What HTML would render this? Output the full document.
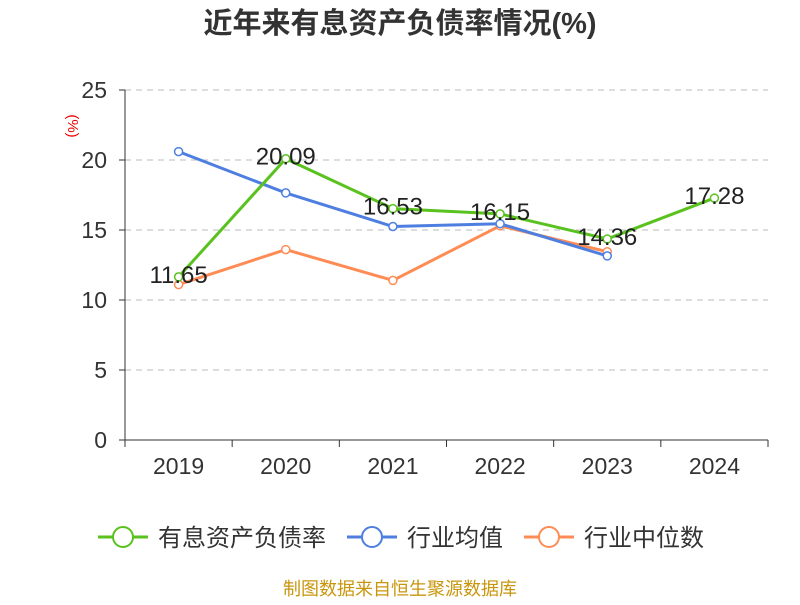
<!DOCTYPE html>
<html><head><meta charset="utf-8"><style>
body{margin:0;background:#fff;font-family:"Liberation Sans","Noto Sans CJK SC",sans-serif}
</style></head><body>
<svg id="c" width="800" height="600" xmlns="http://www.w3.org/2000/svg"></svg>
<script>
const categories=["2019","2020","2021","2022","2023","2024"];
const debtRatio=[11.65,20.09,16.53,16.15,14.36,17.28];
const industryAvg=[20.6,17.65,15.25,15.45,13.15,null];
const industryMedian=[11.1,13.6,11.4,15.3,13.45,null];
const yTicks=[0,5,10,15,20,25];
const svg=document.getElementById('c');
const NS='http://www.w3.org/2000/svg';
function el(t,a,p){const e=document.createElementNS(NS,t);for(const k in a)e.setAttribute(k,a[k]);(p||svg).appendChild(e);return e;}
const x0=125,x1=768,yB=440,yT=90;
const bw=(x1-x0)/categories.length;
const xS=i=>x0+bw*(i+0.5);
const yS=v=>yB-(v/25)*(yB-yT);
let t=el('text',{x:400,y:33,'text-anchor':'middle','font-size':29,'font-weight':'bold',fill:'#333'});
t.textContent='近年来有息资产负债率情况(%)';

t=el('text',{x:68,y:126,'text-anchor':'middle','font-size':15,fill:'#e00',transform:'rotate(90 68 126)'});
t.textContent='(%)';

yTicks.forEach(v=>{
  const y=yS(v);
  if(v>0){const g=el('line',{x1:x0,x2:x1,y1:y,y2:y,stroke:'#bbb','stroke-dasharray':'6,5'});
  }
  el('line',{x1:x0-6,x2:x0,y1:y,y2:y,stroke:'#333'});
  const l=el('text',{x:107,y:y+8,'text-anchor':'end','font-size':23,fill:'#333'});l.textContent=v;
  
});
el('line',{x1:x0,x2:x0,y1:yT,y2:yB,stroke:'#333'});
el('line',{x1:x0,x2:x1,y1:yB,y2:yB,stroke:'#333'});
for(let i=0;i<=categories.length;i++)el('line',{x1:x0+bw*i,x2:x0+bw*i,y1:yB,y2:yB+7,stroke:'#333'});
categories.forEach((c,i)=>{const l=el('text',{x:xS(i),y:474,'text-anchor':'middle','font-size':23,fill:'#333'});l.textContent=c;
});
function series(data,color,name,labels){
  const pts=[];data.forEach((v,i)=>{if(v!=null)pts.push([xS(i),yS(v),v]);});
  const p=el('polyline',{points:pts.map(p=>p[0]+','+p[1]).join(' '),fill:'none',stroke:color,'stroke-width':3});
  
  pts.forEach(q=>{const c=el('circle',{cx:q[0],cy:q[1],r:4,fill:'#fff',stroke:color,'stroke-width':1.5});
    
    if(labels){const l=el('text',{x:q[0],y:q[1]+6,'text-anchor':'middle','font-size':24,fill:'#222'});l.textContent=q[2].toFixed(2);
    }});
}
series(industryMedian,'#ff8c55','industry-median',false);
series(industryAvg,'#4e7fe0','industry-average',false);
series(debtRatio,'#5ac21f','debt-ratio',true);
const leg=[['有息资产负债率','#5ac21f',98],['行业均值','#4e7fe0',347],['行业中位数','#ff8c55',524]];
leg.forEach(([n,c,x])=>{
  const g=el('g',{});
  el('line',{x1:x,x2:x+50,y1:537,y2:537,stroke:c,'stroke-width':3},g);
  el('circle',{cx:x+25,cy:537,r:10,fill:'#fff',stroke:c,'stroke-width':2},g);
  const l=el('text',{x:x+60,y:546,'font-size':24,fill:'#333'},g);l.textContent=n;
});
t=el('text',{x:400,y:595,'text-anchor':'middle','font-size':18,fill:'#c8960c'});t.textContent='制图数据来自恒生聚源数据库';

</script>
</body></html>
